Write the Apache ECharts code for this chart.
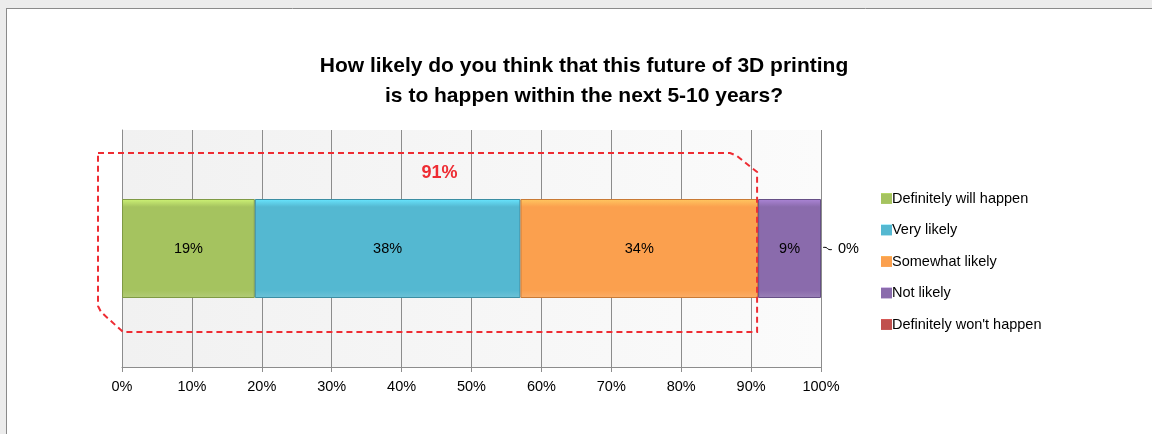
<!DOCTYPE html>
<html>
<head>
<meta charset="utf-8">
<script src="https://cdn.jsdelivr.net/npm/echarts@6/dist/echarts.min.js"></script>
<style>
  html, body { margin: 0; padding: 0; background: #fff; }
  #main { width: 1152px; height: 434px; }
</style>
</head>
<body>
<div id="main"></div>
<script>
var categories = ["Definitely will happen", "Very likely", "Somewhat likely", "Not likely", "Definitely won't happen"];
var values = [19, 38, 34, 9, 0];
var colors = ["#a5c35f", "#54b8d1", "#fba04e", "#8a6bac", "#c0504d"];
var edgeColors = ["#7f9a45", "#3b8ea3", "#c97a35", "#664f86", "#943c3a"];
var xTicks = [0, 10, 20, 30, 40, 50, 60, 70, 80, 90, 100];
var likelyCount = 3; // first three answers are grouped in the red dashed box

var font = "Liberation Sans";
var myChart = echarts.init(document.getElementById("main"));

function barColor(i) {
  return new echarts.graphic.LinearGradient(0, 0, 0, 1, [
    { offset: 0, color: echarts.color.lift(colors[i], -0.25) },
    { offset: 0.08, color: colors[i] },
    { offset: 0.92, color: colors[i] },
    { offset: 1, color: echarts.color.lift(colors[i], 0.15) },
  ]);
}

var series = categories.map(function (name, i) {
  var zero = values[i] === 0;
  return {
    name: name,
    type: "bar",
    stack: "total",
    barWidth: 99,
    data: [values[i]],
    itemStyle: {
      color: barColor(i),
      borderColor: edgeColors[i],
      borderWidth: zero ? 0 : 1,
    },
    label: {
      show: true,
      position: zero ? "right" : "inside",
      distance: 17,
      formatter: "{c}%",
      color: "#000",
      fontFamily: font,
      fontSize: 14.5,
    },
  };
});

myChart.setOption({
  backgroundColor: "#ffffff",
  animation: false,
  color: colors,
  title: {
    text: "How likely do you think that this future of 3D printing\nis to happen within the next 5-10 years?",
    left: 579,
    top: 46,
    textAlign: "center",
    textStyle: {
      fontFamily: font,
      fontSize: 21,
      fontWeight: "bold",
      lineHeight: 30,
      color: "#000",
    },
  },
  legend: {
    orient: "vertical",
    left: 876,
    top: 186,
    itemWidth: 11,
    itemHeight: 11,
    itemGap: 16.5,
    icon: "rect",
    itemStyle: { borderWidth: 0 },
    textStyle: { fontFamily: font, fontSize: 14.5, color: "#000", lineHeight: 15, padding: [0, 0, 0, -5] },
    data: categories,
  },
  grid: {
    left: 122,
    right: 331,
    top: 130,
    bottom: 67,
    show: true,
    borderWidth: 0,
    backgroundColor: new echarts.graphic.LinearGradient(0, 0, 1, 0, [
      { offset: 0, color: "#f1f1f1" },
      { offset: 1, color: "#fbfbfb" },
    ]),
  },
  xAxis: {
    type: "value",
    min: xTicks[0],
    max: xTicks[xTicks.length - 1],
    interval: xTicks[1] - xTicks[0],
    axisLine: { show: true, lineStyle: { color: "#8c8c8c", width: 1 } },
    axisTick: { show: true, length: 5, lineStyle: { color: "#8c8c8c" } },
    splitLine: { show: true, lineStyle: { color: "#8c8c8c", width: 1 } },
    axisLabel: {
      formatter: "{value}%",
      color: "#000",
      fontFamily: font,
      fontSize: 14.5,
      margin: 12,
    },
  },
  yAxis: {
    type: "category",
    data: [""],
    axisLine: { show: true, lineStyle: { color: "#8c8c8c" } },
    axisTick: { show: false },
    axisLabel: { show: false },
  },
  series: series,
});

// annotations placed from the axes' own scale
var px0 = myChart.convertToPixel({ xAxisIndex: 0 }, 0);
var likelySum = values.slice(0, likelyCount).reduce(function (a, b) { return a + b; }, 0);
var pxL = myChart.convertToPixel({ xAxisIndex: 0 }, likelySum) - 1;
var pxEnd = myChart.convertToPixel({ xAxisIndex: 0 }, 100);
var pyc = myChart.convertToPixel({ yAxisIndex: 0 }, 0);
var boxTop = pyc - 49.5 - 46;
var boxBot = pyc + 49.5 + 34;
var boxLeft = px0 - 24;

myChart.setOption({
  graphic: [
    // window frame
    { type: "rect", shape: { x: 0, y: 0, width: 1152, height: 8 }, style: { fill: "#ececec" }, silent: true },
    { type: "rect", shape: { x: 0, y: 0, width: 6, height: 434 }, style: { fill: "#ececec" }, silent: true },
    { type: "line", shape: { x1: 6, y1: 8.5, x2: 1152, y2: 8.5 }, style: { stroke: "#8a8a8a", lineWidth: 1 }, silent: true },
    { type: "line", shape: { x1: 6.5, y1: 8, x2: 6.5, y2: 434 }, style: { stroke: "#8a8a8a", lineWidth: 1 }, silent: true },
    {
      type: "polyline",
      z: 100,
      shape: {
        points: [
          [boxLeft, boxTop],
          [pxL - 27, boxTop],
          [pxL - 20, boxTop + 3],
          [pxL, boxTop + 19],
          [pxL, boxBot],
          [px0 + 1, boxBot],
          [boxLeft + 3, boxBot - 20],
          [boxLeft, boxBot - 26],
          [boxLeft, boxTop],
        ],
      },
      style: { fill: "none", stroke: "#ee2c33", lineWidth: 2, lineDash: [6, 4] },
      silent: true,
    },
    {
      type: "text",
      z: 100,
      x: (px0 + pxL) / 2,
      y: boxTop + 20,
      style: {
        text: likelySum + "%",
        align: "center",
        verticalAlign: "middle",
        fill: "#ee2c33",
        font: "bold 18px " + font,
      },
      silent: true,
    },
    {
      type: "polyline",
      z: 100,
      shape: { points: [[pxEnd + 2, pyc - 1], [pxEnd + 5, pyc - 1], [pxEnd + 8, pyc + 1], [pxEnd + 11, pyc + 1]], smooth: 0.5 },
      style: { stroke: "#000", lineWidth: 1, fill: "none" },
      silent: true,
    },
  ],
});
</script>
</body>
</html>
